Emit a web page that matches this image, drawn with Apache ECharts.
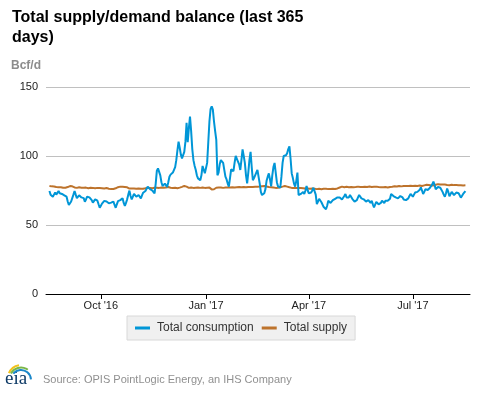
<!DOCTYPE html>
<html><head><meta charset="utf-8">
<script src="https://cdn.jsdelivr.net/npm/echarts@6/dist/echarts.min.js"></script>
<style>html,body{margin:0;padding:0;background:#fff}#c{width:477px;height:393px}</style>
</head><body><div id="c"></div>
<script>
// Daily values, 2016-08-17 .. 2017-08-16 (Bcf/d)
var startDate = '2016-08-17';
var consAug16 = [74.6,72,71,70.5,72,73.5,72,73,74.6,73,71.7,72.5,73,71.5,70.5];
var consSep16 = [70.5,67,64.5,65.5,67,68,72,74.6,72,69.5,70,71.5,71,70,69.5,69.5,66.9,68.5,70.5,71.2,70,70.5,68,66.2,67.5,68.6,68,67.6,65,62.5];
var consOct16 = [64,65.5,66.2,67.5,68.6,67,66,65.7,66.5,66.2,67,67,64.5,62.5,65,67.3,67.5,68,68.5,69.3,66,63.8,66,68.6,72,74.9,71,68.6,70.5,72.5,71.5];
var consNov16 = [70.5,71,71.7,71.7,69.3,71.5,73.4,74,74.6,76,77.8,76.5,76,75.4,75,74.6,73,80,89.4,91,90,86,81,78.3,78.5,80,79,77.5,81,85];
var consDec16 = [86.5,87.7,88,88.6,92,97,104,110.4,106,101,98.3,97,103,110.4,124,110,120,128.5,118,105,97,93,90,86,83.8,83,82.5,86,92.8,90,87.5];
var consJan17 = [87,95,110,125,134,136,133.6,125,118,111.6,86,88,94,97,96,95,90,85,83,80,77.8,84,90.3,91,89,95,100,98,99,94,89.9];
var consFeb17 = [97,104.8,100,95,86,80.2,88,97,103,92,82.4,84,86,88,90,89,80,74,71.7,72.5,73,76,82,85,87.4,83,78,86];
var consMar17 = [92,95,88,81,78,77.5,77,85,95,100,100,100.5,102,105,107,98,87.4,84,80,77.8,82,88,71.7,72,72.5,73,74,72.5,75,78.3,75];
var consApr17 = [73,72,73.5,75,77,78.3,72,65.2,67,69,68,66.5,65.5,63,62,61.4,64,67.5,67,66,66.8,68,69.3,69,69.5,70,70.5,70,69,68.5];
var consMay17 = [69.3,71,72.5,70,68.6,70,71.7,70.5,69,68,67,66.2,68,70,71.7,70.5,69.3,69,68.6,68,67,67.5,68,67,66,67.6,65,62.8,64,66.8,66];
var consJun17 = [65,64.5,66,67.6,66.5,66,67.5,68.6,67.5,66.2,69,72.5,72,71,70.5,70,69.5,69.3,70,71,71.2,70,68.5,67.6,68,68.5,69.3,71,72.5,73.4];
var consJul17 = [70.5,72,73.5,74.9,74,73.4,75.5,77.3,75,72.5,74,76,77.3,75.4,76,77,77.8,79.5,81.4,79,75.9,76.5,77.5,78.3,77,75.9,74,72,70.5,73,76.4];
var consAug17 = [74,70.8,72,74,73,71.7,72.5,73.5,74,73,71.5,69.8,71,72.5,73.5,74.6];

var supAug16 = [78.3,78.2,78,77.8,77.9,77.6,77.5,77.7,77.3,77.1,77.4,77.2,77,76.8,77];
var supSep16 = [77.2,77.5,77.8,78.2,78.3,78,77.6,77.2,77,76.9,77.1,77.3,77.2,77,76.8,77,77.2,77.1,76.9,76.7,76.8,77,77.1,76.9,76.8,76.6,76.7,76.9,77,76.8];
var supOct16 = [76.6,76.7,76.5,76.4,76.6,76.8,76.5,76.3,76.2,76,75.9,76.1,76.3,76.6,77,77.4,77.6,77.8,77.7,77.8,77.5,77.6,77.7,77.3,76.5,76.4,76.3,76.5,76.6,76.4,76.3];
var supNov16 = [76.2,76.4,76.5,76.3,76.2,76.1,76.3,76.5,76.6,76.8,77,77.1,76.9,76.8,76.6,76.8,77,77.2,77,76.8,76.9,77,77.1,77.2,77,76.9,77.1,77.3,77.5,77.2];
var supDec16 = [77,76.8,76.9,77.1,77,76.8,76.7,76.9,77.1,77.3,77.6,77.8,78.3,78.6,77.8,77.2,76.9,77,77.2,77.1,76.9,76.8,77,77.2,77.1,77,76.9,77.1,77.2,77,76.9];
var supJan17 = [76.8,77,77.2,77.1,76.5,75.8,75.5,75.9,76.6,77,77.2,77.1,77,77.2,77.1,76.9,77,77.1,77.3,77.2,77,77.1,77.2,77.4,77.3,77.1,77.2,77.3,77.4,77.5,77.3];
var supFeb17 = [77.4,77.5,77.6,77.4,77.3,77.5,77.6,77.7,77.5,77.4,77.6,77.8,77.7,77.6,77.8,78,77.9,77.8,78.1,78.3,78.2,78,77.9,77.8,77.6,77.5,77.4,77.3];
var supMar17 = [77.2,77.1,76.9,76.8,77,77.2,77.4,77.6,77.8,78,78.3,78.1,77.8,77.5,77.3,77.1,76.9,76.8,76.9,77,76.8,76.7,76.9,77,76.8,76.6,76.7,76.5,76.4,76.6,76.5];
var supApr17 = [76.4,76.3,76.2,76.4,76.5,76.3,76.1,76,76.2,76.3,76.1,75.9,76,76.2,76.4,76.3,76.1,76,75.9,76.1,76.3,76.2,76,76.1,76.3,76.5,76.8,77.2,77.6,77.8];
var supMay17 = [77.6,77.4,77.5,77.7,77.6,77.4,77.3,77.5,77.6,77.4,77.3,77.5,77.7,77.8,77.6,77.5,77.4,77.6,77.8,77.7,77.5,77.6,77.8,77.9,77.7,77.6,77.5,77.7,77.9,77.8,77.6];
var supJun17 = [77.5,77.4,77.3,77.2,77.4,77.6,77.5,77.3,77.2,77.4,77.6,77.8,77.7,77.9,78.1,78,77.9,78.1,78.3,78.2,78,78.1,78.3,78.4,78.2,78.1,78.3,78.5,78.4,78.2];
var supJul17 = [78.3,78.5,78.4,78.2,78.3,78.5,78.6,78.4,78.3,78.5,78.7,78.9,79.1,79.3,79,78.8,78.6,78.5,78.7,78.9,79.2,79.4,79.6,79.5,79.3,79.2,79.4,79.5,79.3,79.1,79];
var supAug17 = [78.9,78.8,79,79.2,79.1,78.9,78.8,78.9,79,78.8,78.7,78.8,78.9,78.7,78.6,78.8];

var tickDates = ['2016-10-01','2017-01-01','2017-04-01','2017-07-01'];
var yTicks = [0, 50, 100, 150];

var consumption = [].concat(consAug16,consSep16,consOct16,consNov16,consDec16,consJan17,consFeb17,consMar17,consApr17,consMay17,consJun17,consJul17,consAug17);
var supply = [].concat(supAug16,supSep16,supOct16,supNov16,supDec16,supJan17,supFeb17,supMar17,supApr17,supMay17,supJun17,supJul17,supAug17);

function dayTs(i){ var d = new Date(startDate + 'T00:00:00Z'); return d.getTime() + i*86400000; }
var consData = consumption.map(function(v,i){ return [dayTs(i), v]; });
var supData = supply.map(function(v,i){ return [dayTs(i), v]; });
var tickTs = tickDates.map(function(s){ return new Date(s + 'T00:00:00Z').getTime(); });
var months = ['Jan','Feb','Mar','Apr','May','Jun','Jul','Aug','Sep','Oct','Nov','Dec'];

var chart = echarts.init(document.getElementById('c'), null, {renderer:'canvas'});
chart.setOption({
  animation: false,
  backgroundColor: '#fff',
  title: {
    text: 'Total supply/demand balance (last 365\ndays)',
    left: 7, top: 3,
    textStyle: {fontFamily: 'Liberation Sans', fontSize: 16, fontWeight: 'bold', color: '#000', lineHeight: 20}
  },
  legend: {
    left: 127, top: 316,
    padding: [6, 8, 6, 8],
    itemGap: 8,
    itemWidth: 15, itemHeight: 3,
    icon: 'rect',
    backgroundColor: '#f0f0f0',
    borderColor: '#d8d8d8', borderWidth: 1,
    textStyle: {fontFamily: 'Liberation Sans', fontSize: 12, color: '#333', padding: [0,0,0,2]},
    data: ['Total consumption','Total supply']
  },
  grid: {left: 46, right: 7, top: 87, bottom: 99, containLabel: false},
  xAxis: {
    type: 'value',
    min: new Date('2016-08-14T00:00:00Z').getTime(),
    max: new Date('2017-08-20T00:00:00Z').getTime(),
    axisLine: {show: true, lineStyle: {color: '#000', width: 1}},
    axisTick: {show: true, customValues: tickTs, length: 5, lineStyle: {color: '#000'}},
    axisLabel: {
      customValues: tickTs,
      fontFamily: 'Liberation Sans', fontSize: 11, color: '#222', margin: 6,
      formatter: function(v){ var d = new Date(v); return months[d.getUTCMonth()] + " '" + String(d.getUTCFullYear()).slice(2); }
    },
    splitLine: {show: false}
  },
  yAxis: {
    type: 'value', min: yTicks[0], max: yTicks[yTicks.length-1], interval: 50,
    axisLine: {show: false}, axisTick: {show: false},
    axisLabel: {fontFamily: 'Liberation Sans', fontSize: 11, color: '#222', margin: 8},
    splitLine: {lineStyle: {color: '#c0c0c0', width: 1}}
  },
  series: [
    {name: 'Total consumption', type: 'line', data: consData, showSymbol: false, symbol: 'none',
     lineStyle: {color: '#0096d7', width: 2}, itemStyle: {color: '#0096d7'}, z: 3},
    {name: 'Total supply', type: 'line', data: supData, showSymbol: false, symbol: 'none',
     lineStyle: {color: '#bd732c', width: 2}, itemStyle: {color: '#bd732c'}, z: 2}
  ],
  graphic: [
    {type: 'text', left: 11, top: 60, style: {text: 'Bcf/d', font: 'bold 12px "Liberation Sans"', fill: '#8c8c8c'}},
    {type: 'text', left: 43, top: 374, style: {text: 'Source: OPIS PointLogic Energy, an IHS Company', font: '11px "Liberation Sans"', fill: '#909090'}},
    {type: 'text', left: 5, top: 370, style: {text: 'eia', font: '19px "Liberation Serif"', fill: '#0e3a66'}},
    {type: 'arc', shape: {cx: 21, cy: 378, r: 13, startAngle: Math.PI*1.12, endAngle: Math.PI*1.45}, style: {stroke: '#f2c21b', lineWidth: 2, fill: null}},
    {type: 'arc', shape: {cx: 21, cy: 379, r: 11.5, startAngle: Math.PI*1.16, endAngle: Math.PI*1.7}, style: {stroke: '#7ab648', lineWidth: 2, fill: null}},
    {type: 'arc', shape: {cx: 21, cy: 380, r: 10, startAngle: Math.PI*1.22, endAngle: Math.PI*1.98}, style: {stroke: '#1b87c9', lineWidth: 2, fill: null}}
  ]
});
</script>
</body></html>
